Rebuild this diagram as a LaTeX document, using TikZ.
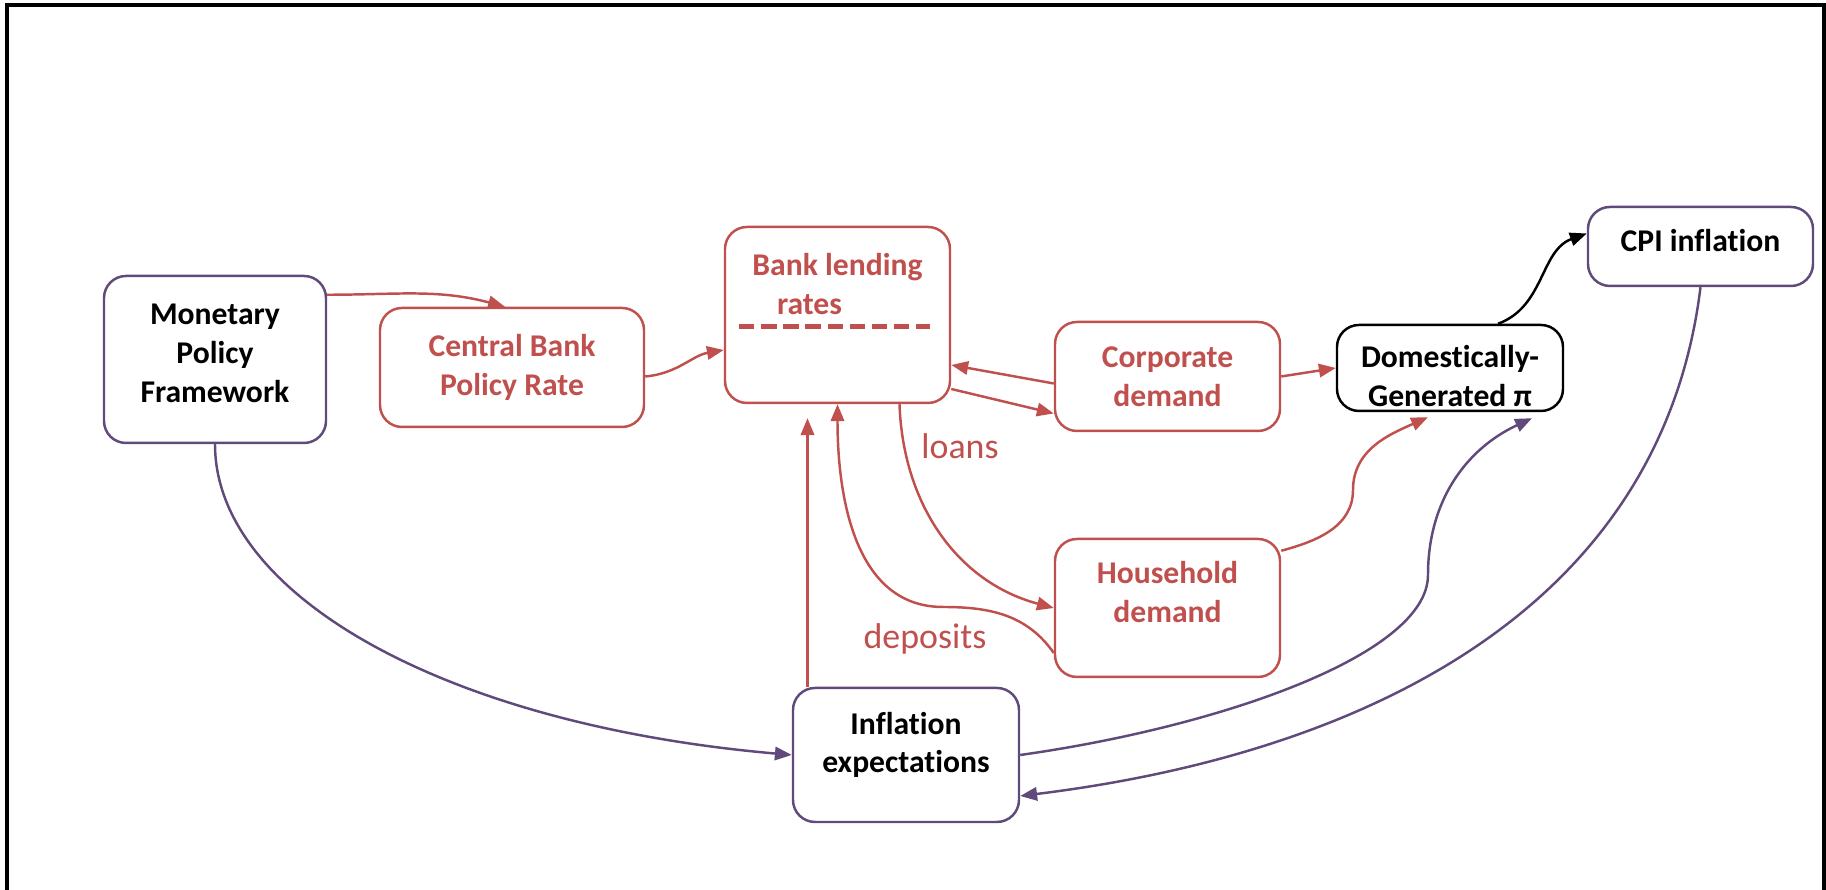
\documentclass[tikz,border=0pt]{standalone}
\usepackage{fontspec}
\setmainfont{Carlito}[Ligatures=NoCommon]
\usepackage{tikz}
\usetikzlibrary{positioning}
\usetikzlibrary{arrows.meta}

\definecolor{chanred}{HTML}{C0504D}
\definecolor{chanpurple}{HTML}{604A7B}

\begin{document}
\begin{tikzpicture}[
    box/.style={draw, rounded corners=0.22cm, line width=0.7pt, inner sep=0pt},
    redbox/.style={box, draw=chanred},
    purplebox/.style={box, draw=chanpurple},
    blackbox/.style={box, draw=black},
    boxtext/.style={align=center, font=\fontsize{9}{11}\selectfont\bfseries},
    redtext/.style={boxtext, text=chanred},
    redarrow/.style={draw=chanred, line width=0.7pt, -{Triangle[length=4.8pt,width=3.8pt]}},
    purplearrow/.style={draw=chanpurple, line width=0.7pt, -{Triangle[length=4.8pt,width=3.8pt]}},
    blackarrow/.style={draw=black, line width=0.7pt, -{Triangle[length=4.8pt,width=3.8pt]}},
    flowlabel/.style={text=chanred, font=\fontsize{10.2}{12}\selectfont}
  ]
    \useasboundingbox (0,0) rectangle (18.26,8.90);
    \draw[line width=1pt] (0.07,0) -- (0.07,8.85) -- (18.24,8.85) -- (18.24,0);

    % boxes
    \node[purplebox, minimum width=2.22cm, minimum height=1.67cm] (mpf) at (2.15,5.305) {};
    \node[redbox, minimum width=2.64cm, minimum height=1.19cm] (cbpr) at (5.12,5.225) {};
    \node[redbox, minimum width=2.25cm, minimum height=1.76cm] (blr) at (8.375,5.75) {};
    \node[redbox, minimum width=2.25cm, minimum height=1.09cm] (corp) at (11.675,5.135) {};
    \node[blackbox, minimum width=2.26cm, minimum height=0.86cm] (domgen) at (14.50,5.22) {};
    \node[purplebox, minimum width=2.25cm, minimum height=0.79cm] (cpi) at (17.005,6.435) {};
    \node[redbox, minimum width=2.25cm, minimum height=1.38cm] (hh) at (11.675,2.82) {};
    \node[purplebox, minimum width=2.26cm, minimum height=1.34cm] (ie) at (9.06,1.35) {};

    % box texts
    \node[boxtext] (mpftext) at ([yshift=0.06cm]mpf.center) {Monetary\\Policy\\Framework};
    \node[redtext] (cbprtext) at (cbpr.center) {Central Bank\\Policy Rate};
    \node[redtext, anchor=north] (blrtext) at ([yshift=-0.15cm]blr.north) {Bank lending\\rates\hspace*{0.56cm}};
    \node[redtext] (corptext) at (corp.center) {Corporate\\demand};
    \node[boxtext] (domgentext) at ([yshift=-0.08cm]domgen.center) {Domestically-\\Generated π};
    \node[boxtext] (cpitext) at ([yshift=0.06cm]cpi.center) {CPI inflation};
    \node[redtext] (hhtext) at ([yshift=0.16cm]hh.center) {Household\\demand};
    \node[boxtext] (ietext) at ([yshift=0.1cm]ie.center) {Inflation\\expectations};
    \draw[chanred, line width=1.4pt, dash pattern=on 4.4pt off 1.9pt]
      ([xshift=-0.985cm, yshift=-1.01cm]blr.north) -- ([xshift=0.925cm, yshift=-1.01cm]blr.north);

    % bends
    \coordinate (hhbend) at (13.53,4.00);
    \coordinate (depbend) at (9.43,2.83);
    \coordinate (iebend) at (14.28,3.15);

    % red channel
    \draw[redarrow] ([yshift=-0.2cm]mpf.north east) to[out=0, in=165] ([xshift=-0.07cm]cbpr.north);
    \draw[redarrow] ([yshift=-0.09cm]cbpr.east) to[out=5, in=190] ([yshift=-0.35cm]blr.west);
    \draw[redarrow] ([yshift=-0.07cm]corp.west) -- ([yshift=-0.5cm]blr.east);
    \draw[redarrow] ([yshift=-0.74cm]blr.east) -- ([yshift=-0.37cm]corp.west);
    \draw[redarrow] (corp.east) -- (domgen.west);
    \draw[redarrow] ([yshift=-0.13cm]hh.north east) to[out=15, in=-90] (hhbend)
      to[out=90, in=204] ([xshift=-0.22cm, yshift=-0.05cm]domgen.south);
    \draw[redarrow] ([xshift=0.62cm]blr.south) to[out=-88, in=165] (hh.west);
    \draw[redarrow] ([yshift=-0.45cm]hh.west) to[out=125, in=0] (depbend)
      to[out=180, in=-90] (blr.south);
    \draw[redarrow] ([xshift=-0.3cm]blr.south |- ie.north) -- ([xshift=-0.3cm, yshift=-0.14cm]blr.south);
    \node[flowlabel, anchor=base] (loans) at (9.60,4.31) {loans};
    \node[flowlabel, anchor=base] (deposits) at (9.25,2.41) {deposits};

    % to CPI
    \draw[blackarrow] ([xshift=0.48cm]domgen.north) to[out=20, in=200] ([yshift=0.13cm]cpi.west);

    % expectations channel
    \draw[purplearrow] (mpf.south) to[out=-90, in=175, out distance=1.5cm, in distance=3.5cm] (ie.west);
    \draw[purplearrow] (ie.east) to[out=8, in=-90, out distance=2cm, in distance=0.8cm] (iebend)
      to[out=90, in=205] ([xshift=0.82cm, yshift=-0.06cm]domgen.south);
    \draw[purplearrow] (cpi.south) to[out=-97, in=7] ([yshift=-0.41cm]ie.east);
  \end{tikzpicture}
\end{document}
